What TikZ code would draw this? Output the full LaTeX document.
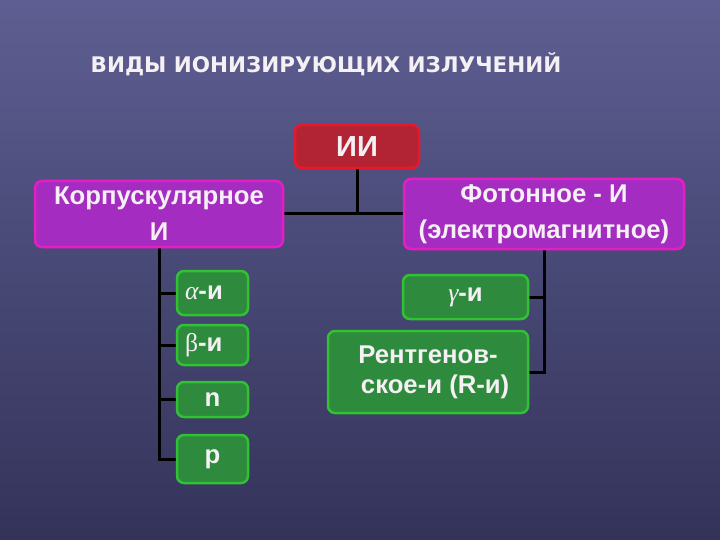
\documentclass[tikz,border=0pt]{standalone}
\usepackage{fontspec}
\setmainfont{Liberation Sans}
\newfontfamily\titlefont{DejaVu Sans}
\newfontfamily\grk{Liberation Serif}
\usetikzlibrary{backgrounds}
\definecolor{bgtop}{HTML}{5E5E92}
\definecolor{bgbot}{HTML}{33335A}
\definecolor{iifill}{HTML}{B22434}
\definecolor{iiline}{HTML}{E8182C}
\definecolor{magfill}{HTML}{A52CC0}
\definecolor{magline}{HTML}{E41EC4}
\definecolor{grfill}{HTML}{2E8A3C}
\definecolor{grline}{HTML}{30C232}
\definecolor{txt}{HTML}{F4F0F4}
\begin{document}
\begin{tikzpicture}[x=1pt,y=-1pt,
  box/.style={rounded corners=7pt, line width=2.5pt, text=txt, align=center, inner sep=0pt,
    font=\bfseries\fontsize{25.7}{36}\selectfont},
  redbox/.style={box, fill=iifill, draw=iiline},
  magbox/.style={box, fill=magfill, draw=magline},
  grbox/.style={box, fill=grfill, draw=grline},
  link/.style={line width=3pt, black}]
\useasboundingbox (0,0) rectangle (720,540);

\node[text=txt, font=\titlefont\bfseries\fontsize{21.5}{25}\selectfont] (title) at (326,64) {ВИДЫ ИОНИЗИРУЮЩИХ ИЗЛУЧЕНИЙ};

\node[redbox, minimum width=124pt, minimum height=43pt, font=\bfseries\fontsize{29}{34}\selectfont] (ii) at (357,146.5) {ИИ};
\node[magbox, minimum width=248pt, minimum height=66pt] (korp) at (159,214) {Корпускулярное\\И};
\node[magbox, minimum width=280pt, minimum height=70pt] (fot) at (544,214) {Фотонное - И\\(электромагнитное)};

\node[grbox, minimum width=71pt, minimum height=44pt, text width=55pt, align=left] (alpha) at (212.5,293) {{\grk\itshape\mdseries α}-и};
\node[grbox, minimum width=71pt, minimum height=40pt, text width=55pt, align=left] (beta) at (212.5,345) {{\grk\mdseries β}-и};
\node[grbox, minimum width=71pt, minimum height=35pt] (n) at (212.5,399.5) {n};
\node[grbox, minimum width=71pt, minimum height=48pt] (p) at (212.5,459) {p};

\node[grbox, minimum width=125pt, minimum height=44pt] (gamma) at (465.5,297) {{\grk\itshape\mdseries γ}-и};
\node[grbox, minimum width=200pt, minimum height=82pt, font=\bfseries\fontsize{25.7}{30}\selectfont] (rent) at (428,372) {Рентгенов-\\\ \ ское-и (R-и)};

\coordinate (jn) at (357,214);
\begin{scope}[on background layer]
  \shade[top color=bgtop, bottom color=bgbot] (0,0) rectangle (720,540);
  \draw[link] (ii.south) -- (jn);
  \draw[link] (korp.east) -- (fot.west);
  \draw[link] (korp.south) |- (p.west);
  \draw[link] (alpha.west) -- (alpha.west -| korp.south);
  \draw[link] (beta.west) -- (beta.west -| korp.south);
  \draw[link] (n.west) -- (n.west -| korp.south);
  \draw[link] (fot.south) |- (rent.east);
  \draw[link] (gamma.east) -- (gamma.east -| fot.south);
\end{scope}
\end{tikzpicture}
\end{document}
